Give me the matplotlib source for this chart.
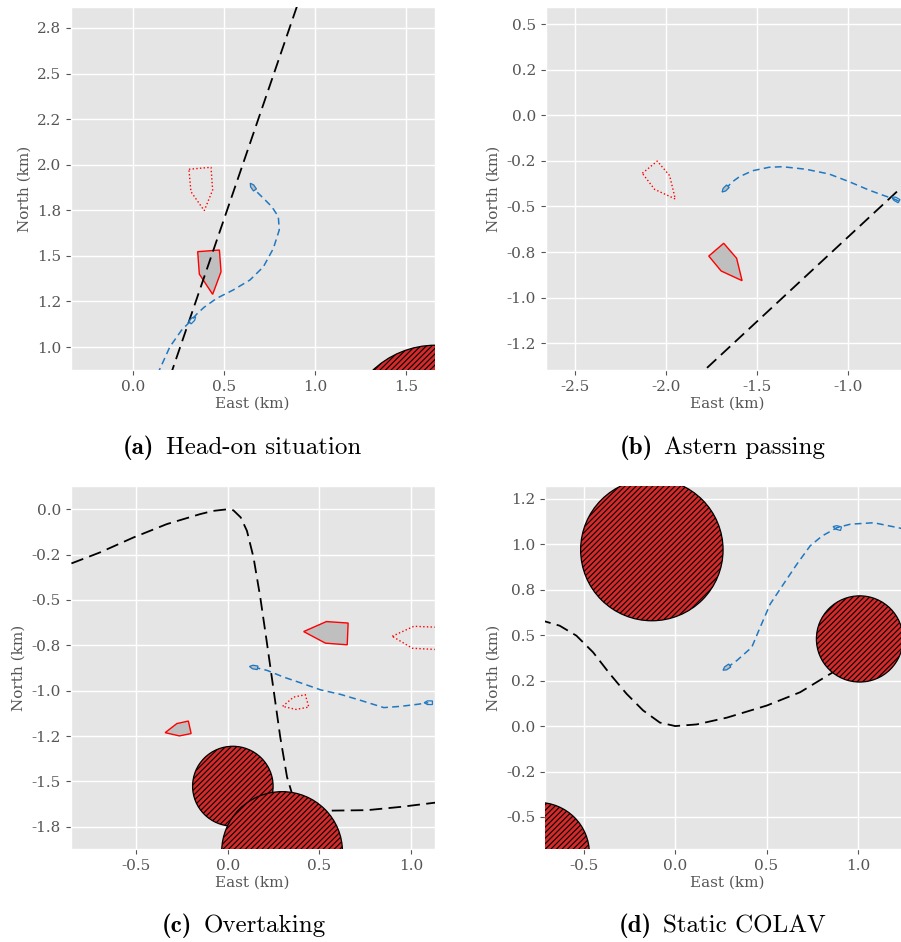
import numpy as np
import matplotlib
matplotlib.use("Agg")
import matplotlib.pyplot as plt
from matplotlib.patches import Polygon, Circle
from matplotlib.ticker import FormatStrFormatter, MultipleLocator

plt.style.use("ggplot")
plt.rcParams["font.family"] = "DejaVu Serif"
plt.rcParams["hatch.linewidth"] = 0.8

# ---- (a) head-on ----
a_ref_e = [0.17, 0.93]
a_ref_n = [0.737, 2.956]
a_path_e = [0.135, 0.146, 0.204, 0.268, 0.314, 0.35, 0.391, 0.46, 0.551, 0.643,
            0.716, 0.771, 0.803, 0.798, 0.762, 0.716, 0.670, 0.657]
a_path_n = [0.85, 0.874, 1.002, 1.093, 1.139, 1.18, 1.218, 1.267, 1.313, 1.368,
            1.44, 1.541, 1.642, 1.715, 1.77, 1.816, 1.861, 1.874]
a_ts_start_e = [0.308, 0.429, 0.438, 0.392, 0.319]
a_ts_start_n = [1.975, 1.986, 1.861, 1.748, 1.852]
a_ts_end_e = [0.356, 0.475, 0.484, 0.438, 0.365]
a_ts_end_n = [1.523, 1.532, 1.413, 1.289, 1.400]
a_obst = [(1.66, 0.51, 0.50)]
a_own = [(0.329, 1.15, 45, False), (0.657, 1.88, 125, True)]

# ---- (b) astern passing ----
b_ref_e = [-1.85, -0.6]
b_ref_n = [-1.456, -0.298]
b_path_e = [-1.673, -1.633, -1.596, -1.523, -1.432, -1.359, -1.23, -1.103,
            -0.993, -0.884, -0.811, -0.738, -0.714, -0.65]
b_path_n = [-0.404, -0.364, -0.337, -0.304, -0.285, -0.282, -0.296, -0.322,
            -0.364, -0.41, -0.437, -0.462, -0.474, -0.50]
b_ts_start_e = [-2.129, -2.047, -1.979, -1.948, -2.062]
b_ts_start_n = [-0.318, -0.251, -0.331, -0.459, -0.406]
b_ts_end_e = [-1.764, -1.682, -1.611, -1.581, -1.696]
b_ts_end_n = [-0.772, -0.702, -0.784, -0.907, -0.854]
b_own = [(-1.675, -0.405, 225, True), (-0.738, -0.46, 150, False)]

# ---- (c) overtaking ----
c_ref_e = [-0.95, -0.864, -0.699, -0.517, -0.334, -0.152, -0.08, 0.0, 0.03, 0.07,
           0.104, 0.14, 0.177, 0.214, 0.25, 0.286, 0.323, 0.35, 0.39, 0.45, 0.533,
           0.761, 0.944, 1.13, 1.2]
c_ref_n = [-0.34, -0.302, -0.238, -0.156, -0.082, -0.027, -0.009, 0.0, -0.006, -0.045,
           -0.119, -0.266, -0.486, -0.742, -0.998, -1.255, -1.475, -1.566, -1.64,
           -1.66, -1.661, -1.658, -1.64, -1.617, -1.608]
c_path_e = [0.14, 0.214, 0.305, 0.396, 0.506, 0.615, 0.725, 0.852, 0.944, 1.035, 1.095]
c_path_n = [-0.87, -0.888, -0.925, -0.956, -0.995, -1.02, -1.053, -1.093, -1.086,
            -1.075, -1.066]
c_ts1_start_e = [0.898, 1.016, 1.14, 1.14, 1.008]
c_ts1_start_n = [-0.70, -0.645, -0.65, -0.773, -0.766]
c_ts1_end_e = [0.414, 0.538, 0.657, 0.652, 0.533]
c_ts1_end_n = [-0.674, -0.619, -0.627, -0.747, -0.738]
c_ts2_start_e = [0.299, 0.359, 0.423, 0.442, 0.372]
c_ts2_start_n = [-1.086, -1.035, -1.022, -1.09, -1.103]
c_ts2_end_e = [-0.343, -0.279, -0.216, -0.201, -0.265]
c_ts2_end_n = [-1.231, -1.181, -1.167, -1.236, -1.249]
c_obst = [(0.027, -1.526, 0.22), (0.296, -1.886, 0.33)]
c_own = [(0.14, -0.87, 170, True), (1.095, -1.066, 180, False)]

# ---- (d) static COLAV ----
d_ref_e = [-0.75, -0.715, -0.633, -0.541, -0.45, -0.358, -0.267, -0.176, -0.084,
           0.0, 0.117, 0.282, 0.502, 0.684, 0.849, 0.92]
d_ref_n = [0.58, 0.576, 0.552, 0.497, 0.406, 0.287, 0.178, 0.086, 0.019,
           0.0, 0.009, 0.046, 0.113, 0.186, 0.287, 0.33]
d_path_e = [0.282, 0.337, 0.419, 0.465, 0.52, 0.593, 0.666, 0.739, 0.804, 0.886,
            0.959, 1.087, 1.233, 1.3]
d_path_n = [0.32, 0.36, 0.433, 0.543, 0.671, 0.781, 0.89, 0.991, 1.045, 1.091,
            1.11, 1.118, 1.088, 1.07]
d_obst = [(-0.128, 0.969, 0.39), (1.01, 0.479, 0.237), (-0.75, -0.70, 0.28)]
d_own = [(0.28, 0.32, 215, True), (0.886, 1.091, 165, False)]

captions = [("(a)", "Head-on situation"), ("(b)", "Astern passing"),
            ("(c)", "Overtaking"), ("(d)", "Static COLAV")]

BLUE = "#1f78c1"
OBST_RED = "#d62a2a"


def ship_shape(e, n, heading_deg, length=0.045, width=0.02):
    # small ship outline pointing along heading (deg from east, ccw)
    pts = np.array([[-0.5, -0.5], [0.1, -0.5], [0.5, 0.0], [0.1, 0.5], [-0.5, 0.5]])
    pts = pts * [length, width]
    t = np.radians(heading_deg)
    rot = np.array([[np.cos(t), -np.sin(t)], [np.sin(t), np.cos(t)]])
    return pts @ rot.T + [e, n]


def setup_axes(ax, xlim, ylim, xticks, yticks):
    ax.set_xlim(*xlim)
    ax.set_ylim(*ylim)
    ax.xaxis.set_major_locator(MultipleLocator(xticks))
    ax.yaxis.set_major_locator(MultipleLocator(yticks))
    ax.xaxis.set_major_formatter(FormatStrFormatter("%.1f"))
    ax.yaxis.set_major_formatter(FormatStrFormatter("%.1f"))
    ax.set_xlabel("East (km)", fontsize=11, color="#555555", labelpad=2)
    ax.set_ylabel("North (km)", fontsize=11, color="#555555", labelpad=4)
    ax.tick_params(labelsize=11, colors="#555555", labelcolor="#555555")
    ax.grid(True, color="white", linewidth=1.0)


def draw_ref(ax, e, n):
    ax.plot(e, n, color="black", lw=1.3, ls=(0, (7, 3.5)), zorder=3)


def draw_path(ax, e, n, own):
    ax.plot(e, n, color=BLUE, lw=1.1, ls=(0, (4.5, 2.8)), zorder=3)
    for x, y, hdg, filled in own:
        ax.add_patch(Polygon(ship_shape(x, y, hdg), closed=True,
                             facecolor="#bfbfbf" if filled else "none",
                             edgecolor=BLUE, lw=0.9, zorder=4))


def draw_target(ax, e, n, dotted):
    ax.add_patch(Polygon(np.column_stack([e, n]), closed=True,
                         facecolor="none" if dotted else "#bfbfbf",
                         edgecolor="red", lw=1.0,
                         ls=":" if dotted else "-", zorder=2))


def draw_obstacles(ax, obst):
    for x, y, r in obst:
        ax.add_patch(Circle((x, y), r, facecolor=OBST_RED, edgecolor="black",
                            hatch="//////", lw=0.9, zorder=5))


fig = plt.figure(figsize=(9.01, 9.42), dpi=100)
W = 364 / 901
H = 363 / 942
ax_a = fig.add_axes([70.7 / 901, 1 - 370 / 942, W, H])
ax_b = fig.add_axes([545.7 / 901, 1 - 370 / 942, W, H])
ax_c = fig.add_axes([70.7 / 901, 1 - 849 / 942, W, H])
ax_d = fig.add_axes([545.0 / 901, 1 - 849 / 942, W, H])

# (a)
setup_axes(ax_a, (-0.34, 1.655), (0.874, 2.865), 0.5, 0.25)
draw_target(ax_a, a_ts_start_e, a_ts_start_n, True)
draw_target(ax_a, a_ts_end_e, a_ts_end_n, False)
draw_ref(ax_a, a_ref_e, a_ref_n)
draw_path(ax_a, a_path_e, a_path_n, a_own)
draw_obstacles(ax_a, a_obst)

# (b)
setup_axes(ax_b, (-2.66, -0.66), (-1.397, 0.594), 0.5, 0.25)
draw_target(ax_b, b_ts_start_e, b_ts_start_n, True)
draw_target(ax_b, b_ts_end_e, b_ts_end_n, False)
draw_ref(ax_b, b_ref_e, b_ref_n)
draw_path(ax_b, b_path_e, b_path_n, b_own)

# (c)
setup_axes(ax_c, (-0.859, 1.13), (-1.872, 0.128), 0.5, 0.25)
draw_target(ax_c, c_ts1_start_e, c_ts1_start_n, True)
draw_target(ax_c, c_ts1_end_e, c_ts1_end_n, False)
draw_target(ax_c, c_ts2_start_e, c_ts2_start_n, True)
draw_target(ax_c, c_ts2_end_e, c_ts2_end_n, False)
draw_ref(ax_c, c_ref_e, c_ref_n)
draw_path(ax_c, c_path_e, c_path_n, c_own)
draw_obstacles(ax_c, c_obst)

# (d)
setup_axes(ax_d, (-0.713, 1.28), (-0.676, 1.32), 0.5, 0.25)
draw_ref(ax_d, d_ref_e, d_ref_n)
draw_path(ax_d, d_path_e, d_path_n, d_own)
draw_obstacles(ax_d, d_obst)

# subfigure captions: bold tag + roman text, centred under each panel
renderer = fig.canvas.get_renderer()
centers = [(242, 448), (722, 448), (244, 926), (722, 926)]
gap = 11
for (tag, txt), (cx, cy) in zip(captions, centers):
    y = 1 - cy / 942
    t1 = fig.text(0, y, tag, family="cmb10", fontsize=18, va="center")
    t2 = fig.text(0, y, txt, family="cmr10", fontsize=18, va="center")
    w1 = t1.get_window_extent(renderer).width
    w2 = t2.get_window_extent(renderer).width
    left = cx - (w1 + gap + w2) / 2
    t1.set_x(left / 901)
    t2.set_x((left + w1 + gap) / 901)

fig.savefig("out.png", dpi=100)
